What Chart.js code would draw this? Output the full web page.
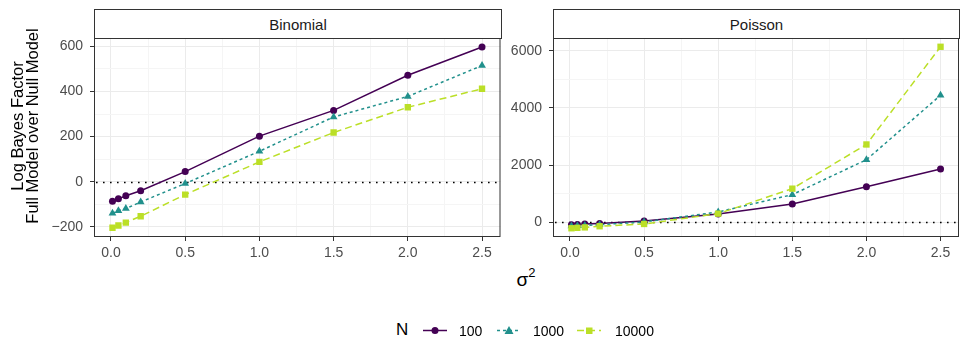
<!DOCTYPE html>
<html>
<head>
<meta charset="utf-8">
<script src="https://cdn.jsdelivr.net/npm/chart.js@4.4.1/dist/chart.umd.min.js"></script>
<style>
  html, body { margin: 0; padding: 0; background: #fff; }
  body { width: 969px; height: 363px; position: relative; overflow: hidden; font-family: "Liberation Sans", Arial, sans-serif; }
  canvas { position: absolute; top: 0; }
  .strip { position: absolute; top: 9px; height: 30px; box-sizing: border-box; border: 1px solid #333; background: #fff;
           color: #1a1a1a; font-size: 15px; display: flex; align-items: center; justify-content: center; }
  .ytitle { position: absolute; left: -90px; top: 111px; width: 230px; height: 30px; line-height: 15px; font-size: 16.5px;
            text-align: center; color: #000; transform: rotate(-90deg); }
  .xtitle { position: absolute; left: 501px; top: 265px; width: 50px; text-align: center; font-size: 19px; color: #000; line-height: 20px; }
  .xtitle sup { font-size: 13px; position: relative; top: -2px; }
  .leg { position: absolute; font-size: 14px; color: #000; line-height: 16px; }
</style>
</head>
<body>
<canvas id="binomial" width="505" height="262" style="left:0"></canvas>
<canvas id="poisson" width="464" height="262" style="left:505px"></canvas>

<div class="strip" style="left:94px;width:408px">Binomial</div>
<div class="strip" style="left:553px;width:407px">Poisson</div>
<div class="ytitle">Log Bayes Factor<br>Full Model over Null Model</div>
<div class="xtitle">σ<sup>2</sup></div>

<div class="leg" style="left:396px;top:322px;font-size:17px">N</div>
<svg style="position:absolute;left:0;top:0" width="969" height="363">
  <line x1="423" y1="330.5" x2="447" y2="330.5" stroke="#440154" stroke-width="1.5"/>
  <circle cx="435" cy="330.5" r="3.5" fill="#440154"/>
  <line x1="497" y1="330.5" x2="521" y2="330.5" stroke="#21908C" stroke-width="1.5" stroke-dasharray="3,3"/>
  <polygon points="509,326 513.5,334 504.5,334" fill="#21908C"/>
  <line x1="577" y1="330.5" x2="601" y2="330.5" stroke="#BBDF27" stroke-width="1.5" stroke-dasharray="7,4"/>
  <rect x="586" y="327.5" width="6.5" height="6.5" fill="#BBDF27"/>
</svg>
<div class="leg" style="left:459px;top:323px">100</div>
<div class="leg" style="left:533px;top:323px">1000</div>
<div class="leg" style="left:615px;top:323px">10000</div>

<script>
"use strict";

const sigma2 = [0.01, 0.05, 0.1, 0.2, 0.5, 1, 1.5, 2, 2.5];

const binomial100 = [-87, -76, -62, -40, 45, 202, 316, 472, 597];
const binomial1000 = [-140, -129, -119, -90, -8, 135, 287, 378, 515];
const binomial10000 = [-204, -194, -181, -153, -57, 88, 218, 330, 412];

const poisson100 = [-85, -75, -65, -45, 40, 290, 642, 1245, 1862];
const poisson1000 = [-135, -125, -115, -85, 10, 360, 966, 2187, 4443];
const poisson10000 = [-210, -195, -180, -140, -60, 300, 1175, 2721, 6139];

const xMajor = [0, 0.5, 1, 1.5, 2, 2.5];
const xMinor = [0.25, 0.75, 1.25, 1.75, 2.25];
const binomialYMajor = [-200, 0, 200, 400, 600];
const binomialYMinor = [-100, 100, 300, 500];
const poissonYMajor = [0, 2000, 4000, 6000];
const poissonYMinor = [1000, 3000, 5000];

const seriesNames = ['100', '1000', '10000'];
const seriesColors = ['#440154', '#21908C', '#BBDF27'];
const seriesShapes = ['circle', 'triangle', 'rect'];
const seriesRadius = [3.5, 4.5, 4.5];
const seriesDash = [[], [3, 3], [7, 4]];

const fontFamily = '"Liberation Sans", Arial, sans-serif';

const isIn = (list, value) => list.some((v) => Math.abs(v - value) < 1e-9);

const formatTick = (value, digits) => {
  const text = Math.abs(value).toFixed(digits);
  return value < 0 ? `\u2212${text}` : text;
};

const panelPlugin = {
  id: 'panelFrame',
  beforeDatasetsDraw: (chart) => {
    const { ctx, chartArea, scales } = chart;
    const y0 = Math.round(scales.y.getPixelForValue(0)) + 0.5;
    ctx.save();
    ctx.strokeStyle = '#000';
    ctx.lineWidth = 1.6;
    ctx.setLineDash([1.6, 5.4]);
    ctx.beginPath();
    ctx.moveTo(chartArea.left + 2, y0);
    ctx.lineTo(chartArea.right, y0);
    ctx.stroke();
    ctx.restore();
  },
  afterDraw: (chart) => {
    const { ctx, chartArea } = chart;
    ctx.save();
    ctx.strokeStyle = '#333';
    ctx.lineWidth = 1;
    ctx.strokeRect(chartArea.left + 0.5, chartArea.top + 0.5,
      chartArea.right - chartArea.left - 1, chartArea.bottom - chartArea.top - 1);
    ctx.restore();
  },
};

const axisGrid = (major) => ({
  drawTicks: true,
  tickLength: 4,
  tickWidth: 1,
  lineWidth: 1,
  color: (context) => (isIn(major, context.tick.value) ? '#EBEBEB' : '#F5F5F5'),
  tickColor: (context) => (isIn(major, context.tick.value) ? '#333' : 'rgba(0,0,0,0)'),
});

const createPanel = (canvasId, values, yRange, yMajor, yMinor, yWidth, padRight) => {
  const canvas = document.getElementById(canvasId);

  return new Chart(canvas, {
    type: 'line',
    data: {
      datasets: values.map((series, i) => ({
        label: seriesNames[i],
        data: sigma2.map((x, j) => ({ x, y: series[j] })),
        borderColor: seriesColors[i],
        backgroundColor: seriesColors[i],
        borderWidth: 1.5,
        borderDash: seriesDash[i],
        pointStyle: seriesShapes[i],
        pointRadius: seriesRadius[i],
        pointBorderWidth: 0,
        tension: 0,
      })).reverse(),
    },
    options: {
      responsive: false,
      animation: false,
      events: [],
      layout: {
        padding: { left: 0, right: padRight, top: 38, bottom: 0 },
      },
      plugins: {
        legend: { display: false },
        tooltip: { enabled: false },
      },
      scales: {
        x: {
          type: 'linear',
          min: -0.1145,
          max: 2.6245,
          afterBuildTicks: (scale) => {
            scale.ticks = [...xMajor, ...xMinor].sort((a, b) => a - b).map((value) => ({ value }));
          },
          afterFit: (scale) => {
            scale.height = 25;
          },
          border: { display: false },
          grid: axisGrid(xMajor),
          ticks: {
            autoSkip: false,
            maxRotation: 0,
            padding: 4,
            color: '#4D4D4D',
            font: { family: fontFamily, size: 14 },
            callback: (value) => (isIn(xMajor, value) ? formatTick(value, 1) : ''),
          },
        },
        y: {
          type: 'linear',
          min: yRange[0],
          max: yRange[1],
          afterBuildTicks: (scale) => {
            scale.ticks = [...yMajor, ...yMinor].sort((a, b) => a - b).map((value) => ({ value }));
          },
          afterFit: (scale) => {
            scale.width = yWidth;
          },
          border: { display: false },
          grid: axisGrid(yMajor),
          ticks: {
            autoSkip: false,
            padding: 7,
            color: '#4D4D4D',
            font: { family: fontFamily, size: 14 },
            callback: (value) => (isIn(yMajor, value) ? formatTick(value, 0) : ''),
          },
        },
      },
    },
    plugins: [panelPlugin],
  });
};

createPanel('binomial', [binomial100, binomial1000, binomial10000],
  [-245, 637], binomialYMajor, binomialYMinor, 94, 4);

createPanel('poisson', [poisson100, poisson1000, poisson10000],
  [-516, 6446], poissonYMajor, poissonYMinor, 48, 10);
</script>
</body>
</html>
